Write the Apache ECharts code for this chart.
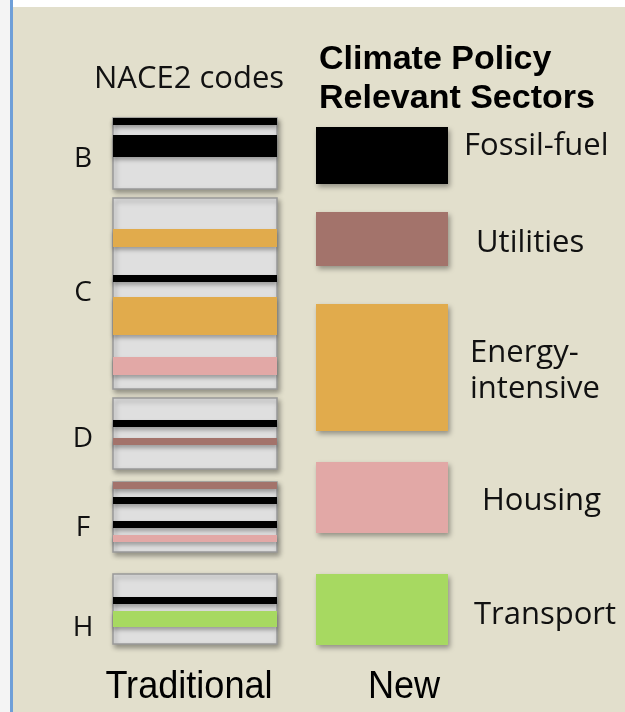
<!DOCTYPE html>
<html>
<head>
<meta charset="utf-8">
<script src="https://cdn.jsdelivr.net/npm/echarts@6/dist/echarts.min.js"></script>
<style>
  html, body { margin: 0; padding: 0; background: #fff; }
  #chart { width: 625px; height: 712px; }
</style>
</head>
<body>
<div id="chart"></div>
<script>
// NACE2 code boxes (traditional column), extent on the vertical scale
let codes = ['B', 'C', 'D', 'F', 'H'];
let codeTop = [118, 198, 398, 482, 574];
let codeBottom = [189, 389, 469, 552, 644];

// climate policy relevant sectors (new column)
let sectors = ['Fossil-fuel', 'Utilities', 'Energy-intensive', 'Housing', 'Transport'];
let sectorTop = [127, 212, 304, 462, 574];
let sectorBottom = [184, 266, 431, 533, 645];

// stripes inside the code boxes: [code, sector, from, to]
let stripes = [
    ['B', 'Fossil-fuel', 118, 125],
    ['B', 'Fossil-fuel', 135, 157],
    ['C', 'Energy-intensive', 229, 247],
    ['C', 'Fossil-fuel', 275, 282],
    ['C', 'Energy-intensive', 297, 335],
    ['C', 'Housing', 357, 375],
    ['D', 'Fossil-fuel', 420, 427],
    ['D', 'Utilities', 438, 445],
    ['F', 'Utilities', 482, 489],
    ['F', 'Fossil-fuel', 497, 504],
    ['F', 'Fossil-fuel', 521, 528],
    ['F', 'Housing', 535, 542],
    ['H', 'Fossil-fuel', 597, 604],
    ['H', 'Transport', 611, 627]
];

let sectorColors = {
    'Fossil-fuel': '#000000',
    'Utilities': '#a3736b',
    'Energy-intensive': '#e1ab4c',
    'Housing': '#e2a8a6',
    'Transport': '#a7d961'
};

let tradCol = [113, 277];
let newCol = [316, 448];

let chart = echarts.init(document.getElementById('chart'));

function rectItem(params, api, style) {
    let p0 = api.coord([api.value(0), api.value(2)]);
    let p1 = api.coord([api.value(1), api.value(3)]);
    return {
        type: 'rect',
        shape: { x: p0[0], y: p0[1], width: p1[0] - p0[0], height: p1[1] - p0[1] },
        style: style
    };
}

let boxData = codes.map((c, i) => [tradCol[0], tradCol[1], codeTop[i], codeBottom[i]]);
let stripeData = stripes.map(s => [tradCol[0], tradCol[1], s[2], s[3], s[1]]);
let sectorData = sectors.map((s, i) => [newCol[0], newCol[1], sectorTop[i], sectorBottom[i], s]);

let shadow = {
    shadowBlur: 5,
    shadowOffsetX: 2,
    shadowOffsetY: 3,
    shadowColor: 'rgba(0,0,0,0.35)'
};

let textFont = '"Open Sans", Lato, sans-serif';
let boldFont = 'bold 34px "Liberation Sans", Arial, sans-serif';
let bottomFont = '38px "Liberation Sans", Arial, sans-serif';
let labelItems = [
    ['Fossil-fuel', 464, 146],
    ['Utilities', 476, 243],
    ['Energy-', 470, 353],
    ['intensive', 470, 389],
    ['Housing', 482, 501],
    ['Transport', 474, 615]
];
let codeLabelY = [159, 293, 439, 528, 628];

let graphics = [
    { type: 'rect', shape: { x: 0, y: 0, width: 625, height: 712 }, style: { fill: '#e2dfcc' }, z: -10 },
    { type: 'rect', shape: { x: 0, y: 0, width: 625, height: 7 }, style: { fill: '#ffffff' }, z: -9 },
    { type: 'rect', shape: { x: 0, y: 0, width: 10, height: 712 }, style: { fill: '#f4f4f4' }, z: -9 },
    { type: 'rect', shape: { x: 10, y: 0, width: 3, height: 712 }, style: { fill: '#6f9fd8' }, z: -8 },
    {
        type: 'text', x: 189, y: 79, z: 10,
        style: { text: 'NACE2 codes', font: '31px ' + textFont, fill: '#111', align: 'center', verticalAlign: 'middle' }
    },
    {
        type: 'text', x: 319, y: 60, z: 10,
        style: { text: 'Climate Policy', font: boldFont, fill: '#000', verticalAlign: 'middle' }
    },
    {
        type: 'text', x: 319, y: 99, z: 10,
        style: { text: 'Relevant Sectors', font: boldFont, fill: '#000', verticalAlign: 'middle' }
    },
    {
        type: 'text', x: 189, y: 688, z: 10, scaleX: 0.95,
        style: { text: 'Traditional', font: bottomFont, fill: '#000', align: 'center', verticalAlign: 'middle' }
    },
    {
        type: 'text', x: 404, y: 688, z: 10, scaleX: 0.95,
        style: { text: 'New', font: bottomFont, fill: '#000', align: 'center', verticalAlign: 'middle' }
    }
];
labelItems.forEach(l => graphics.push({
    type: 'text', x: l[1], y: l[2], z: 10,
    style: { text: l[0], font: '31px ' + textFont, fill: '#111', verticalAlign: 'middle' }
}));
codes.forEach((c, i) => graphics.push({
    type: 'text', x: 83, y: codeLabelY[i], z: 10,
    style: { text: c, font: '28px ' + textFont, fill: '#111', align: 'center', verticalAlign: 'middle' }
}));

chart.setOption({
    animation: false,
    grid: { left: 0, right: 0, top: 0, bottom: 0 },
    xAxis: { type: 'value', min: 0, max: 625, show: false },
    yAxis: { type: 'value', min: 0, max: 712, inverse: true, show: false },
    graphic: graphics,
    series: [{
        name: 'codes',
        type: 'custom',
        z: 2,
        data: boxData,
        renderItem: function (params, api) {
            return rectItem(params, api, Object.assign({ fill: '#dfdfdf', stroke: '#999999', lineWidth: 1.5 }, shadow));
        }
    }, {
        name: 'stripes',
        type: 'custom',
        z: 3,
        data: stripeData,
        renderItem: function (params, api) {
            let sector = stripeData[params.dataIndex][4];
            return rectItem(params, api, Object.assign({ fill: sectorColors[sector] }, {
                shadowBlur: 4, shadowOffsetY: 3, shadowColor: 'rgba(0,0,0,0.3)'
            }));
        }
    }, {
        name: 'sectors',
        type: 'custom',
        z: 2,
        data: sectorData,
        renderItem: function (params, api) {
            let sector = sectorData[params.dataIndex][4];
            return rectItem(params, api, Object.assign({ fill: sectorColors[sector] }, shadow));
        }
    }]
});
</script>
</body>
</html>
